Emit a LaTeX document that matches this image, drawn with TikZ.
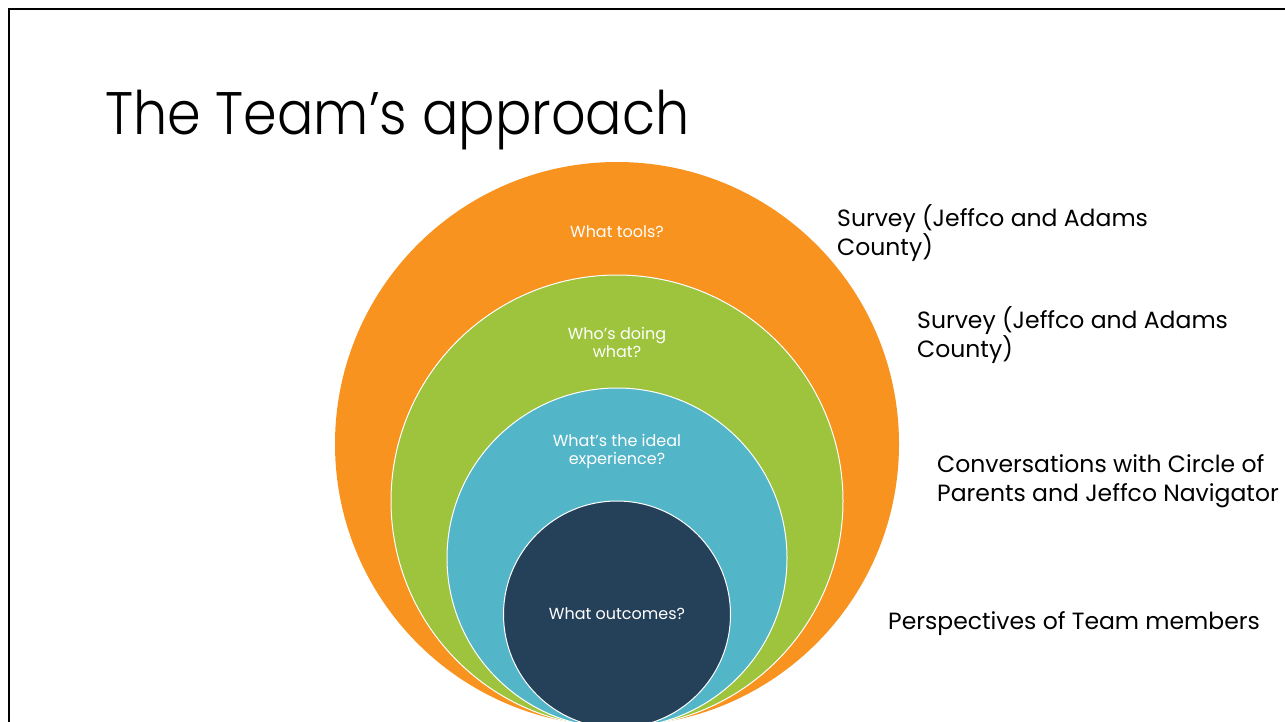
\documentclass[tikz,border=0pt]{standalone}
\usepackage{fontspec}
\setmainfont{Poppins}
\newfontfamily\titlefont{Poppins}[UprightFont={* Light}]
\definecolor{corange}{HTML}{F7931E}
\definecolor{cgreen}{HTML}{9DC43C}
\definecolor{cblue}{HTML}{52B5C8}
\definecolor{cdark}{HTML}{25415A}
\begin{document}
\begin{tikzpicture}[x=1pt,y=-1pt,
  ring/.style={draw=white,line width=1pt},
  inlabel/.style={text=white,font=\fontsize{16}{18}\selectfont,align=center,inner sep=0pt},
  side/.style={text=black,font=\fontsize{23.5}{29}\selectfont,align=left,anchor=west,inner sep=0pt}]
\useasboundingbox (0,0) rectangle (1285,721);
\fill[white] (0,0) rectangle (1285,721);
\begin{scope}
\clip (0,0) rectangle (1285,721);
\draw[line width=2pt] (9,760) -- (9,8.5) -- (1300,8.5);
\fill[corange] (617,444) circle (282);
\draw[ring,fill=cgreen] (617,501) circle (226);
\draw[ring,fill=cblue] (617,558) circle (170);
\draw[ring,fill=cdark] (617,614.5) circle (113.5);
\end{scope}
\node[anchor=base west,inner sep=0pt,font=\titlefont\fontsize{60}{70}\selectfont] (title) at (105,134) {\scalebox{0.9}[1]{The Team’s approach}};
\node[inlabel] (l1) at (617,232) {What tools?};
\node[inlabel] (l2) at (617,342) {Who’s doing\\what?};
\node[inlabel] (l3) at (617,451) {What’s the ideal\\experience?};
\node[inlabel] (l4) at (617,614) {What outcomes?};
\node[side] (s1) at (837,233) {Survey (Jeffco and Adams\\County)};
\node[side] (s2) at (917,335) {Survey (Jeffco and Adams\\County)};
\node[side] (s3) at (937,481) {Conversations with Circle of\\Parents and Jeffco Navigator};
\node[side] (s4) at (888,624) {Perspectives of Team members};
\end{tikzpicture}
\end{document}
